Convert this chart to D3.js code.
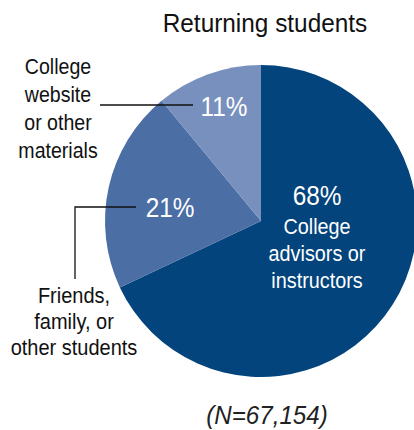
<!DOCTYPE html>
<html><head><meta charset="utf-8">
<script src="https://cdn.jsdelivr.net/npm/d3@7"></script>
<style>
html,body{margin:0;padding:0;background:#fff;}
svg{display:block;font-family:"Liberation Sans",Arial,sans-serif;}
</style></head>
<body>
<svg id="chart" width="414" height="430"></svg>
<script>
const categories = ["College advisors or instructors", "Friends, family, or other students", "College website or other materials"];
const values = [68, 21, 11];
const colors = ["#03447c", "#4b6ea4", "#7890be"];
const title = "Returning students";
const note = "(N=67,154)";

const svg = d3.select("#chart");
const cx = 261, cy = 221, r = 156;

function label(x, y, txt, size, fill, sx, italic) {
  const t = svg.append("text")
    .attr("transform", `translate(${x},${y}) scale(${sx},1)`)
    .attr("text-anchor", "middle").attr("font-size", size).attr("fill", fill).text(txt);
  if (italic) t.attr("font-style", "italic");
  return t;
}

label(265, 32, title, 26.5, "#111", 0.92);

const pie = d3.pie().sort(null).value(d => d)(values);
const arc = d3.arc().innerRadius(0).outerRadius(r);
const g = svg.append("g").attr("transform", `translate(${cx},${cy})`);
g.selectAll("path").data(pie).join("path").attr("d", arc).attr("fill", (d, i) => colors[i]);

// percent labels
const pctPos = [[317, 205], [170, 216.5], [224, 115.5]];
pie.forEach((d, i) => label(pctPos[i][0], pctPos[i][1], values[i] + "%", 28, "#fff", 0.87));

// in-slice category label
["College", "advisors or", "instructors"].forEach((t, k) => label(317, 233.5 + k * 27.3, t, 22.5, "#fff", 0.88));

// outside labels
["College", "website", "or other", "materials"].forEach((t, k) => label(58, 73.5 + k * 28.3, t, 21.5, "#111", 0.91));
["Friends,", "family, or", "other students"].forEach((t, k) => label(74, 302.5 + k * 26.3, t, 21.5, "#111", 0.93));

// leader lines
svg.append("path").attr("d", "M100,105H193").attr("stroke", "#111").attr("stroke-width", 1.3).attr("fill", "none");
svg.append("path").attr("d", "M136,207H75V279").attr("stroke", "#111").attr("stroke-width", 1.3).attr("fill", "none");

label(267, 424, note, 26, "#222", 0.93, true);
</script>
</body></html>
